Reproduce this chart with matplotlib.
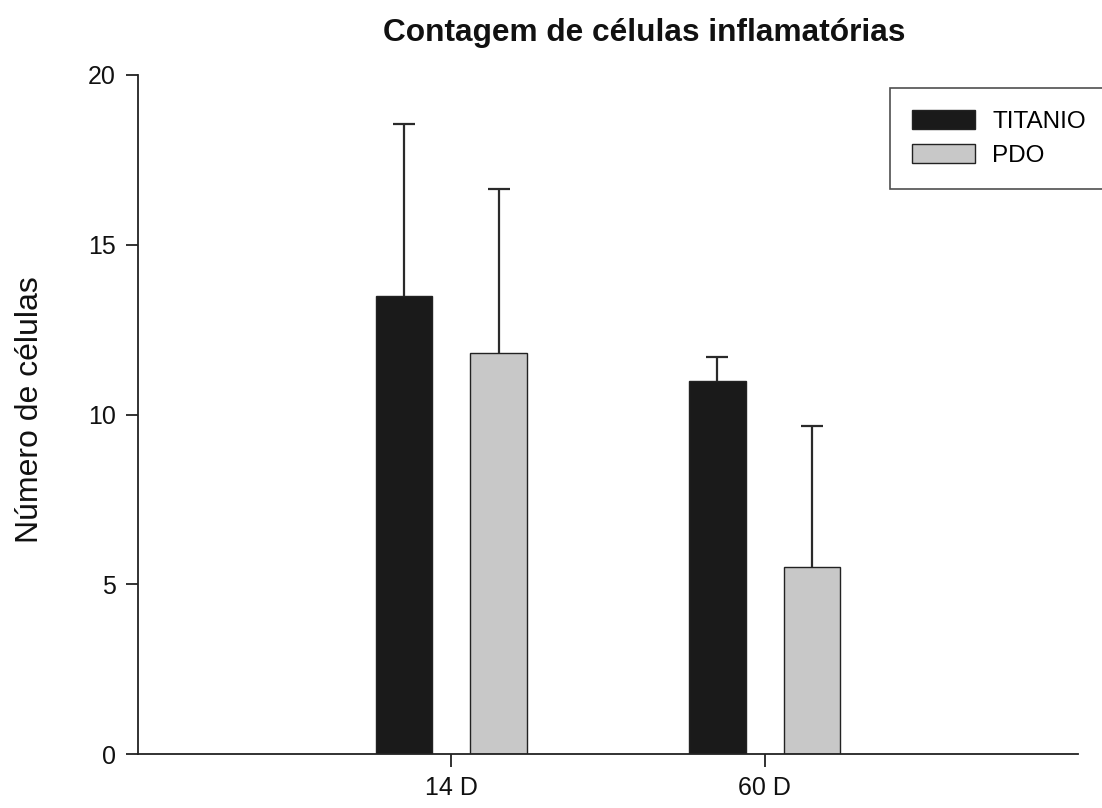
import matplotlib.pyplot as plt
import numpy as np

plt.rcParams['font.family'] = ['Liberation Sans', 'DejaVu Sans']

grupos = ['14 D', '60 D']
titanio = [13.5, 11.0]
titanio_err = [5.06, 0.68]
pdo = [11.8, 5.5]
pdo_err = [4.84, 4.17]

fig = plt.figure(figsize=(11.02, 8.08), dpi=100)
ax = fig.add_axes([138/1102, 54/808, 940/1102, 679/808])

x = np.arange(1, len(grupos) + 1)
w = 0.18
d = 0.151
ax.bar(x - d, titanio, w, color='#1a1a1a', edgecolor='#222222', linewidth=1, label='TITANIO')
ax.bar(x + d, pdo, w, color='#c8c8c8', edgecolor='#222222', linewidth=1, label='PDO')

# só a parte de cima do erro
for xs, ys, es in [(x - d, titanio, titanio_err), (x + d, pdo, pdo_err)]:
    eb = ax.errorbar(xs, ys, yerr=[np.zeros(len(es)), es], fmt='none', ecolor='#2a2a2a',
                     elinewidth=1.6, capsize=8, capthick=1.6, zorder=1)
    eb[1][0].set_visible(False)

ax.set_xlim(0, 3)
ax.set_ylim(0, 20)
ax.set_xticks(x)
ax.set_xticklabels(grupos)
ax.set_yticks([0, 5, 10, 15, 20])
for s in ['top', 'right']:
    ax.spines[s].set_visible(False)
for s in ['left', 'bottom']:
    ax.spines[s].set_linewidth(1.3)
    ax.spines[s].set_color('#222222')
ax.tick_params(axis='both', direction='out', length=9, width=1.3, colors='#222222',
               labelsize=18, labelcolor='#111111', pad=7)

fig.text(30/1102, 1 - 410/808, 'Número de células', rotation=90, fontsize=23,
         ha='center', va='center', color='#111111')
fig.text(644/1102, 1 - 33/808, 'Contagem de células inflamatórias', fontsize=22.8,
         fontweight='bold', ha='center', va='center', color='#111111')

leg = ax.legend(loc='upper left', bbox_to_anchor=(890/1102, 1 - 88/808),
                bbox_transform=fig.transFigure, fancybox=False,
                edgecolor='#222222', fontsize=17.5, handlelength=2.6, handleheight=0.85,
                handletextpad=0.7, borderpad=0.9, borderaxespad=0, labelspacing=0.45,
                frameon=True)
leg.get_frame().set_linewidth(1.2)

fig.savefig('out.png', dpi=100)
